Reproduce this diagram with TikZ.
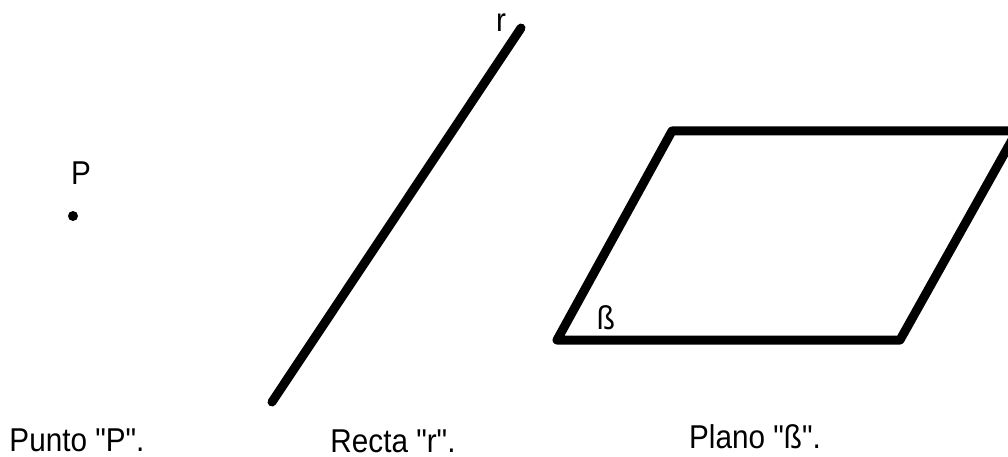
\documentclass[tikz,border=0pt]{standalone}
\usepackage{fontspec}
\setmainfont{Liberation Sans}[Ligatures=TeXOff]
\newcommand{\narrow}[1]{\scalebox{0.9}[1]{#1}}

\begin{document}
\begin{tikzpicture}[x=1pt, y=-1pt,
    edge/.style={line width=9pt, line cap=round, line join=round},
    tag/.style={font=\fontsize{33}{40}\selectfont, inner sep=0pt},
    caption/.style={font=\fontsize{33}{40}\selectfont, anchor=base, inner sep=0pt},
    dot/.style={circle, fill=black, inner sep=0pt, minimum size=10pt}
]
    \useasboundingbox (0,0) rectangle (1008,457);
    \clip (0,0) rectangle (1008,457);

    % Punto
    \node[tag] (Ptag) at (81,173) {\narrow{P}};
    \node[dot] (P) at (73,216) {};
    \node[caption] (capP) at (77,451) {\narrow{Punto "P".}};

    % Recta
    \coordinate (r1) at (272,402);
    \coordinate (r2) at (521,28);
    \draw[edge] (r1) -- (r2);
    \node[tag] (rtag) at (501,23) {\narrow{r}};
    \node[caption] (capr) at (393,452) {\narrow{Recta "r".}};

    % Plano
    \coordinate (A) at (557,340);
    \coordinate (B) at (900,340);
    \coordinate (C) at (1017,131);
    \coordinate (D) at (672,131);
    \draw[edge] (A) -- (B) -- (C) -- (D) -- cycle;
    \node[tag] (btag) at (606,318) {\narrow{ß}};
    \node[caption] (capb) at (755,448) {\narrow{Plano "ß".}};
\end{tikzpicture}
\end{document}
